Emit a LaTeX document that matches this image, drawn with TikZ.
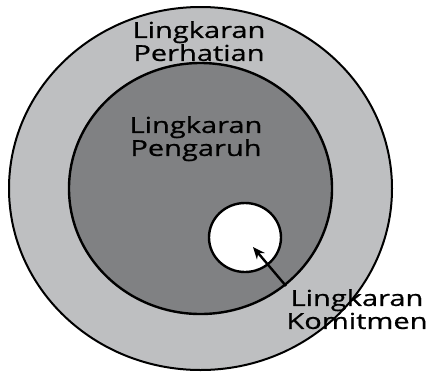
\documentclass[tikz,border=0pt]{standalone}
\usepackage{fontspec}
\usepackage{tikz}
\usetikzlibrary{arrows.meta, positioning, shapes.geometric}
\newfontfamily\lingkaranfont[FakeStretch=1.32, FakeBold=0.8]{Open Sans}
\definecolor{perhatiangris}{RGB}{190,191,193}
\definecolor{pengaruhgris}{RGB}{128,129,131}

\begin{document}
\begin{tikzpicture}[x=1pt, y=-1pt,
    lingkaran/.style={ellipse, draw=black, line width=2pt, inner sep=0pt},
    teks/.style={align=center, inner sep=0pt, font=\lingkaranfont\fontsize{22}{23}\selectfont}]
    \useasboundingbox (0,0) rectangle (431,373);
    \node[lingkaran, fill=perhatiangris, minimum width=383pt, minimum height=363pt] (perhatian) at (200.5,188.5) {};
    \node[lingkaran, fill=pengaruhgris, line width=2.4pt, minimum width=263pt, minimum height=251pt] (pengaruh) at (200.5,188.5) {};
    \node[lingkaran, fill=white, line width=2.4pt, minimum width=72pt, minimum height=69pt] (komitmen) at (245,237.5) {};

    \node[teks, anchor=north] (tperhatian) at (199,21) {Lingkaran\\Perhatian};
    \node[teks, anchor=north] (tpengaruh) at (196,116) {Lingkaran\\Pengaruh};
    \node[teks, anchor=north] (tkomitmen) at (357,289) {Lingkaran\\Komitmen};

    \coordinate (ekor) at (286,286);
    \coordinate (ujung) at (253,247);
    \draw[-{Stealth[length=12pt,width=10pt]}, line width=2.4pt] (ekor) -- (ujung);
\end{tikzpicture}
\end{document}
